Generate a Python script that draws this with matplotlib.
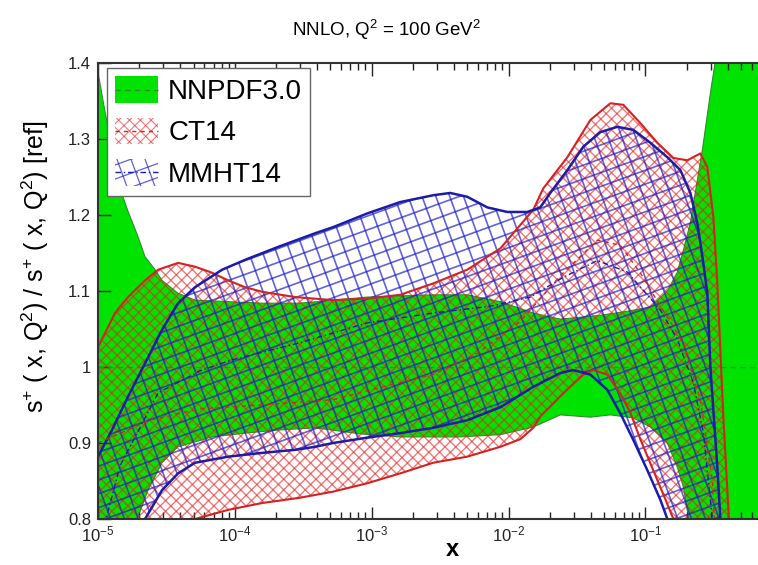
# -*- coding: utf-8 -*-
"""s+ 比プロット (NNLO, Q^2 = 100 GeV^2)
"""

import numpy as np
import matplotlib
matplotlib.use('Agg')
import matplotlib.pyplot as plt
from matplotlib.collections import LineCollection
from matplotlib.patches import Patch, Rectangle
from matplotlib.lines import Line2D
from matplotlib.legend_handler import HandlerBase

plt.rcParams['font.family'] = ['Liberation Sans', 'DejaVu Sans']
plt.rcParams['mathtext.fontset'] = 'custom'
plt.rcParams['mathtext.rm'] = 'Liberation Sans'
plt.rcParams['mathtext.it'] = 'Liberation Sans:italic'
plt.rcParams['mathtext.bf'] = 'Liberation Sans:bold'

# ---- データ: log10(x) と 比 s+/s+[ref] ----
NNPDF_REF = 1.0

nnpdf_up_lx = [-5.000, -4.963, -4.912, -4.839, -4.781, -4.715, -4.656, -4.583, -4.532,
               -4.415, -4.291, -4.049, -3.801, -3.523, -3.033, -2.550, -2.302, -2.060,
               -1.819, -1.622, -1.329, -1.110, -0.963, -0.839, -0.766, -0.722, -0.671,
               -0.620, -0.583, -0.525, -0.474, -0.155]
nnpdf_up_y = [1.388, 1.350, 1.300, 1.235, 1.205, 1.175, 1.145, 1.128, 1.114,
              1.097, 1.088, 1.086, 1.084, 1.084, 1.092, 1.095, 1.095, 1.086,
              1.071, 1.063, 1.068, 1.074, 1.079, 1.100, 1.125, 1.154, 1.190,
              1.246, 1.286, 1.360, 1.420, 1.500]
nnpdf_lo_lx = [-5.000, -4.766, -4.707, -4.634, -4.532, -4.415, -4.166, -3.925, -3.684,
               -3.413, -3.084, -2.792, -2.353, -2.060, -1.819, -1.622, -1.402, -1.256,
               -1.088, -0.963, -0.839, -0.766, -0.722, -0.686, -0.634, -0.155]
nnpdf_lo_y = [0.700, 0.780, 0.803, 0.838, 0.874, 0.895, 0.908, 0.913, 0.917,
              0.920, 0.912, 0.908, 0.908, 0.911, 0.921, 0.937, 0.934, 0.937,
              0.933, 0.921, 0.900, 0.868, 0.842, 0.803, 0.700, 0.700]

ct14_up_lx = [-5.000, -4.876, -4.781, -4.656, -4.561, -4.415, -4.291, -4.166, -4.049,
              -3.925, -3.801, -3.559, -3.282, -3.033, -2.792, -2.550, -2.302, -2.060,
              -1.819, -1.746, -1.570, -1.402, -1.256, -1.161, -1.037, -0.912, -0.795,
              -0.693, -0.598, -0.547, -0.503, -0.474, -0.452, -0.430, -0.393, -0.364]
ct14_up_y = [1.026, 1.071, 1.092, 1.114, 1.128, 1.137, 1.132, 1.124, 1.114,
             1.105, 1.099, 1.092, 1.088, 1.090, 1.095, 1.110, 1.128, 1.156,
             1.207, 1.235, 1.276, 1.325, 1.347, 1.345, 1.321, 1.295, 1.275,
             1.272, 1.281, 1.263, 1.197, 1.110, 1.022, 0.934, 0.812, 0.700]
ct14_lo_lx = [-5.000, -4.620, -4.291, -4.049, -3.801, -3.523, -3.282, -3.033, -2.792,
              -2.550, -2.302, -2.060, -1.914, -1.819, -1.768, -1.695, -1.585, -1.453,
              -1.380, -1.278, -1.183, -1.110, -1.037, -0.942, -0.854, -0.795, -0.744]
ct14_lo_y = [0.600, 0.720, 0.800, 0.812, 0.821, 0.828, 0.836, 0.847, 0.860,
             0.874, 0.882, 0.895, 0.905, 0.920, 0.935, 0.948, 0.968, 0.990,
             0.996, 0.990, 0.965, 0.940, 0.905, 0.864, 0.826, 0.800, 0.700]
ct14_mid_lx = [-5.000, -4.620, -4.254, -3.815, -3.282, -2.916, -2.550, -2.229, -1.914,
               -1.622, -1.351, -1.183, -1.037, -0.890, -0.722, -0.598, -0.510, -0.466]
ct14_mid_y = [0.900, 0.930, 0.945, 0.950, 0.957, 0.974, 0.990, 1.018, 1.060,
              1.120, 1.167, 1.160, 1.124, 1.080, 1.032, 0.957, 0.850, 0.700]

mmht_up_lx = [-5.000, -4.898, -4.781, -4.656, -4.532, -4.415, -4.291, -4.093, -3.925,
              -3.684, -3.413, -3.282, -3.033, -2.792, -2.550, -2.426, -2.302, -2.155,
              -2.009, -1.863, -1.768, -1.695, -1.570, -1.453, -1.329, -1.205, -1.088,
              -0.963, -0.839, -0.744, -0.671, -0.620, -0.583, -0.547, -0.525, -0.474,
              -0.452, -0.430]
mmht_up_y = [0.882, 0.917, 0.961, 1.005, 1.049, 1.084, 1.105, 1.128, 1.141,
             1.158, 1.176, 1.184, 1.202, 1.217, 1.226, 1.229, 1.224, 1.210,
             1.204, 1.204, 1.210, 1.229, 1.259, 1.290, 1.309, 1.316, 1.312,
             1.295, 1.276, 1.259, 1.229, 1.189, 1.145, 1.097, 1.000, 0.868,
             0.800, 0.700]
mmht_lo_lx = [-5.000, -4.766, -4.656, -4.532, -4.415, -4.291, -4.049, -3.801, -3.559,
              -3.413, -3.282, -3.033, -2.792, -2.550, -2.302, -2.060, -1.819, -1.622,
              -1.527, -1.402, -1.278, -1.183, -1.088, -0.985, -0.890, -0.839, -0.803]
mmht_lo_y = [0.650, 0.750, 0.800, 0.838, 0.860, 0.874, 0.882, 0.887, 0.891,
             0.895, 0.900, 0.907, 0.913, 0.920, 0.930, 0.947, 0.974, 0.992,
             0.996, 0.990, 0.970, 0.939, 0.904, 0.864, 0.825, 0.800, 0.700]
mmht_mid_lx = [-5.000, -4.839, -4.561, -4.254, -4.027, -3.523, -3.033, -2.550, -2.133,
               -1.841, -1.600, -1.351, -1.132, -0.890, -0.766, -0.649, -0.576, -0.510,
               -0.480]
mmht_mid_y = [0.760, 0.870, 0.966, 0.995, 1.009, 1.032, 1.058, 1.071, 1.080,
              1.092, 1.118, 1.140, 1.125, 1.075, 1.036, 0.979, 0.913, 0.800,
              0.700]

labels = ['NNPDF3.0', 'CT14', 'MMHT14']
yticks = [0.8, 0.9, 1.0, 1.1, 1.2, 1.3, 1.4]
ytick_labels = ['0.8', '0.9', '1', '1.1', '1.2', '1.3', '1.4']

# 色・スタイル
GREEN = '#00e300'
GREEN_EDGE = '#2b8f2b'
RED = '#d42222'
BLUE = '#1c1ca8'
RED_HATCH = (0.92, 0.12, 0.12)
BLUE_HATCH = (0.12, 0.12, 0.8)
DASH_NN = (0, (4, 3))
DASH_CT = (0, (3, 3))
DASH_MM = (0, (4, 2, 1, 2))


def to_x(lx):
    return 10.0 ** np.asarray(lx)


def hatch_segments(x0, y0, w, h, angles, spacing):
    """矩形 (x0, y0, w, h) を覆う平行線群"""
    L = np.hypot(w, h)
    c0 = np.array([x0 + w / 2, y0 + h / 2])
    segs = []
    for ang in angles:
        t = np.deg2rad(ang)
        d = np.array([np.cos(t), np.sin(t)])
        n = np.array([-np.sin(t), np.cos(t)])
        for o in np.arange(-L / 2, L / 2, spacing):
            c = c0 + o * n
            segs.append([c - L * d, c + L * d])
    return segs


def band_patch(ax, up_lx, up_y, lo_lx, lo_y, **kw):
    """上限・下限からバンドのポリゴンを作る"""
    xs = np.concatenate([to_x(up_lx), to_x(lo_lx)[::-1]])
    ys = np.concatenate([up_y, np.asarray(lo_y)[::-1]])
    return ax.fill(xs, ys, **kw)[0]


def hatch_band(ax, patch, angles, spacing, color, lw, alpha, zorder):
    """ピクセル単位のハッチ線を引き、バンドのポリゴンと軸の枠でクリップする"""
    bbox = ax.get_window_extent()
    segs = hatch_segments(0, 0, bbox.width, bbox.height, angles, spacing)
    segs = [np.asarray(s) / [bbox.width, bbox.height] for s in segs]
    lc = LineCollection(segs, colors=color, linewidths=lw, alpha=alpha,
                        transform=ax.transAxes, zorder=zorder)
    ax.add_collection(lc, autolim=False)
    lc.set_clip_path(patch)
    lc.set_clip_box(ax.bbox)


class BandHandler(HandlerBase):
    """凡例用: 塗り + ハッチ + 中心線"""

    def __init__(self, face, angles, spacing, hcolor, hlw, halpha, lcolor, ls):
        super().__init__()
        self.face = face
        self.angles = angles
        self.spacing = spacing
        self.hcolor = hcolor
        self.hlw = hlw
        self.halpha = halpha
        self.lcolor = lcolor
        self.ls = ls

    def create_artists(self, legend, orig_handle, xdescent, ydescent,
                       width, height, fontsize, trans):
        x0, y0 = -xdescent, -ydescent
        rect = Rectangle((x0, y0), width, height, facecolor=self.face,
                         edgecolor='none', transform=trans)
        arts = [rect]
        if self.angles:
            lc = LineCollection(hatch_segments(x0, y0, width, height,
                                               self.angles, self.spacing),
                                colors=self.hcolor, linewidths=self.hlw,
                                alpha=self.halpha, transform=trans)
            lc.set_clip_path(rect)
            arts.append(lc)
        yc = y0 + height / 2
        arts.append(Line2D([x0, x0 + width], [yc, yc], color=self.lcolor,
                           lw=1.0, ls=self.ls, transform=trans))
        return arts


fig = plt.figure(figsize=(7.58, 5.65), dpi=100)
ax = fig.add_axes([98 / 758, 46 / 565, 663 / 758, 456 / 565])
ax.set_xscale('log')
ax.set_xlim(1e-5, 0.7)
ax.set_ylim(0.8, 1.4)

# NNPDF3.0 (塗りつぶし)
band_patch(ax, nnpdf_up_lx, nnpdf_up_y, nnpdf_lo_lx, nnpdf_lo_y,
           facecolor=GREEN, edgecolor='none', zorder=1)
ax.plot(to_x(nnpdf_up_lx), nnpdf_up_y, color=GREEN_EDGE, lw=0.8, zorder=1.5)
ax.plot(to_x(nnpdf_lo_lx), nnpdf_lo_y, color=GREEN_EDGE, lw=0.8, zorder=1.5)
ax.axhline(NNPDF_REF, color=GREEN_EDGE, lw=1.0, ls=DASH_NN, zorder=1.6)

# CT14 (斜め格子)
ct_patch = band_patch(ax, ct14_up_lx, ct14_up_y, ct14_lo_lx, ct14_lo_y,
                      facecolor='none', edgecolor='none', zorder=2)
hatch_band(ax, ct_patch, [45, 135], 7.6, RED_HATCH, 1.0, 0.6, 2)

# MMHT14 (傾いた四角格子)
mm_patch = band_patch(ax, mmht_up_lx, mmht_up_y, mmht_lo_lx, mmht_lo_y,
                      facecolor='none', edgecolor='none', zorder=3)
hatch_band(ax, mm_patch, [20, 110], 13.0, BLUE_HATCH, 1.2, 0.7, 3)

# 境界線
ax.plot(to_x(ct14_up_lx), ct14_up_y, color=RED, lw=1.5, zorder=4)
ax.plot(to_x(ct14_lo_lx), ct14_lo_y, color=RED, lw=1.5, zorder=4)
ax.plot(to_x(mmht_up_lx), mmht_up_y, color=BLUE, lw=1.8, zorder=5)
ax.plot(to_x(mmht_lo_lx), mmht_lo_y, color=BLUE, lw=1.8, zorder=5)

# 中心値
ax.plot(to_x(ct14_mid_lx), ct14_mid_y, color=RED, lw=1.0, ls=DASH_CT, zorder=6)
ax.plot(to_x(mmht_mid_lx), mmht_mid_y, color=BLUE, lw=1.0, ls=DASH_MM, zorder=6)

# 軸
ax.set_yticks(yticks, ytick_labels)
ax.tick_params(which='both', direction='in', top=True, right=False, labelsize=12,
               width=1.0, colors='#222222', zorder=10)
ax.tick_params(which='major', length=9)
ax.tick_params(which='minor', length=5)
ax.tick_params(axis='x', pad=4)
ax.tick_params(axis='y', pad=5)
for sp in ax.spines.values():
    sp.set_linewidth(1.5)
    sp.set_color('#333333')
    sp.set_zorder(10)

fig.text(387 / 758, 1 - 30 / 565, r'NNLO, Q$^{2}$ = 100 GeV$^{2}$',
         ha='center', va='center', fontsize=13.5)
fig.text(452 / 758, 1 - 549 / 565, 'x', ha='center', va='center',
         fontsize=17, fontweight='bold')
fig.text(35 / 758, 1 - 267 / 565,
         r's$^{+}$ ( x, Q$^{2}$) / s$^{+}$ ( x, Q$^{2}$) [ref]',
         ha='center', va='center', rotation=90, fontsize=18)

# 凡例 (ハンドルの単位はポイント)
h_nn, h_ct, h_mm = Patch(), Patch(), Patch()
handler_map = {
    h_nn: BandHandler(GREEN, None, 0, None, 0, 0, GREEN_EDGE, DASH_NN),
    h_ct: BandHandler('white', [45, 135], 5.5, RED_HATCH, 0.8, 0.6, RED, DASH_CT),
    h_mm: BandHandler('white', [20, 110], 9.5, BLUE_HATCH, 0.9, 0.7, BLUE, DASH_MM),
}
leg = ax.legend([h_nn, h_ct, h_mm], labels, handler_map=handler_map,
                loc='upper left', bbox_to_anchor=(0.0136, 0.989), borderaxespad=0,
                fontsize=20, frameon=True, fancybox=False, framealpha=1,
                edgecolor='#666666', borderpad=0.3, labelspacing=0.45,
                handlelength=1.55, handleheight=1.1, handletextpad=0.35)
leg.get_frame().set_linewidth(1.0)
leg.set_zorder(20)

fig.savefig('out.png', dpi=100)
